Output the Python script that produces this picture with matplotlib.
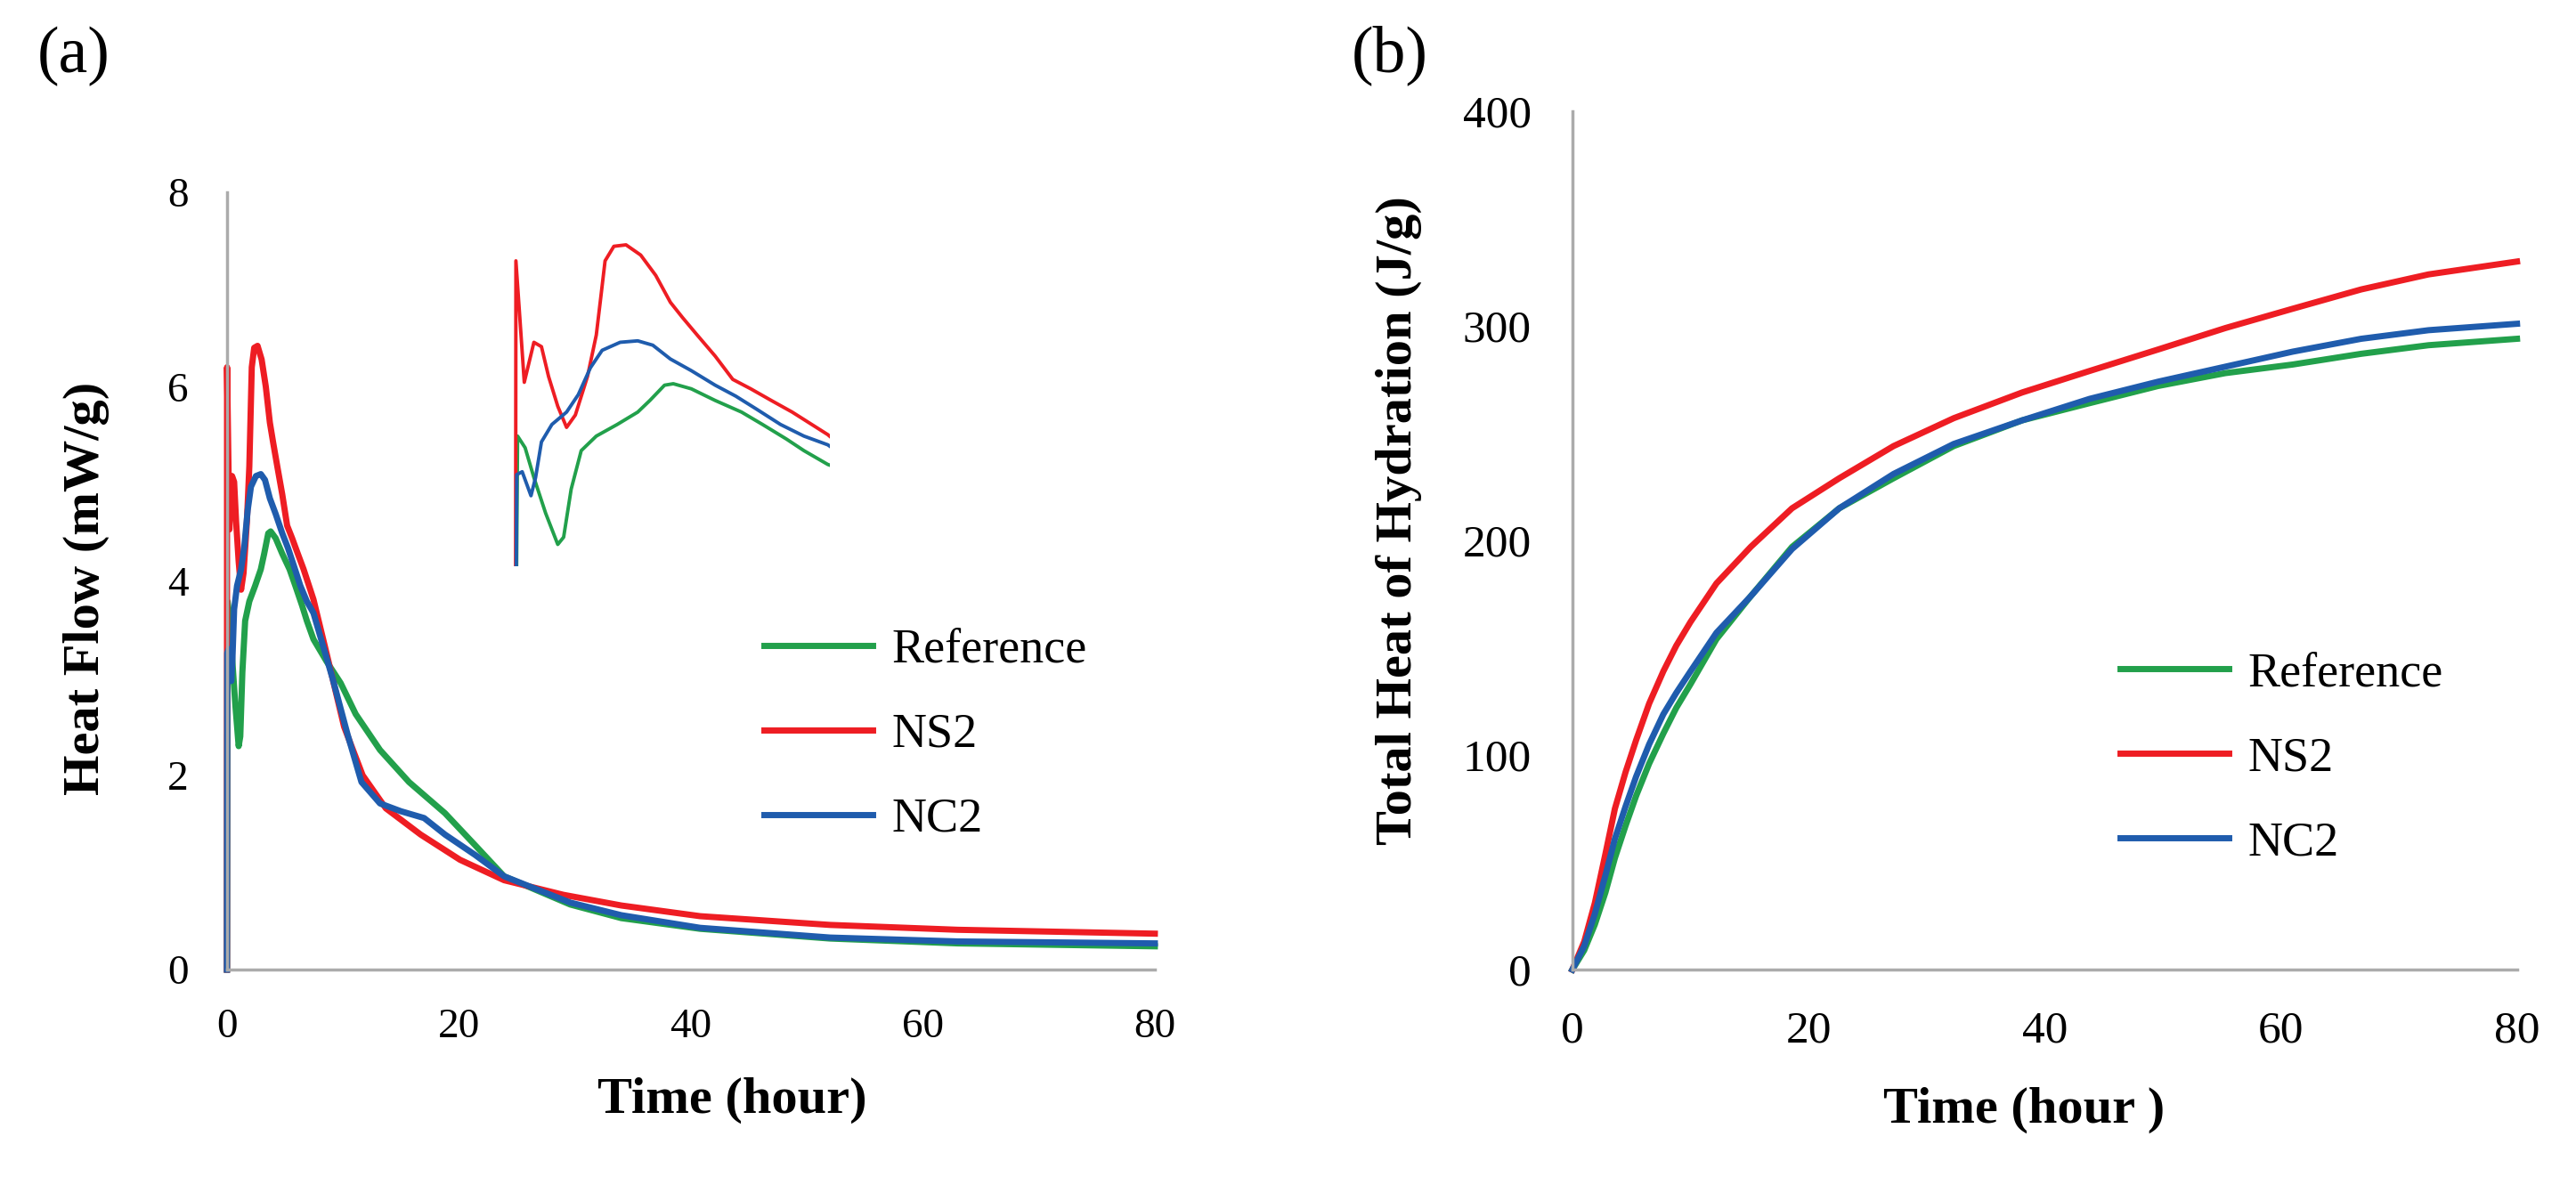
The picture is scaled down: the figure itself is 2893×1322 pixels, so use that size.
import matplotlib.pyplot as plt

# ---- (a) heat flow, mW/g vs time (hour) ----
ref_t = [0, 0.05, 0.23, 0.44, 0.72, 1.01, 1.15, 1.33, 1.57, 1.93, 2.43, 2.92, 3.21, 3.56, 3.77,
         4.20, 4.77, 5.40, 5.90, 6.47, 6.89, 7.46, 8.6, 9.8, 11.1, 13.2, 15.7, 18.8, 21.4,
         23.9, 29.6, 34, 40.8, 52, 63, 80]
ref_q = [0, 3.79, 3.63, 3.22, 2.73, 2.30, 2.40, 3.06, 3.59, 3.79, 3.95, 4.12, 4.28, 4.49, 4.51,
         4.44, 4.28, 4.12, 3.95, 3.75, 3.59, 3.40, 3.17, 2.95, 2.63, 2.26, 1.93, 1.61, 1.28,
         0.96, 0.67, 0.53, 0.42, 0.32, 0.27, 0.24]

ns2_t = [0, 0.01, 0.21, 0.44, 0.62, 0.79, 1.01, 1.22, 1.43, 1.72, 1.93, 2.04, 2.14, 2.35, 2.64,
         2.99, 3.35, 3.70, 3.99, 4.34, 4.77, 5.19, 5.62, 6.11, 6.61, 7.46, 8.6, 10.1, 11.7,
         13.7, 16.7, 20.1, 23.9, 29, 34, 40.8, 52, 63, 80]
ns2_q = [0, 6.20, 4.53, 5.08, 5.02, 4.61, 4.20, 3.91, 4.08, 4.61, 5.18, 5.71, 6.20, 6.40, 6.42,
         6.28, 6.00, 5.63, 5.42, 5.18, 4.89, 4.57, 4.44, 4.28, 4.12, 3.81, 3.25, 2.50, 2.00,
         1.66, 1.39, 1.13, 0.92, 0.77, 0.66, 0.55, 0.46, 0.41, 0.37]

nc2_t = [0, 0.03, 0.16, 0.37, 0.48, 0.62, 0.87, 1.22, 1.50, 1.79, 2.07, 2.50, 2.92, 3.28, 3.70,
         4.20, 4.77, 5.26, 5.76, 6.33, 6.89, 7.46, 9.1, 10.4, 11.6, 13.2, 15, 17, 18.8, 21.4,
         23.9, 29.6, 34, 40.8, 52, 63, 80]
nc2_q = [0, 3.26, 3.30, 2.97, 3.22, 3.71, 3.95, 4.12, 4.36, 4.73, 4.97, 5.08, 5.10, 5.04, 4.85,
         4.69, 4.49, 4.34, 4.16, 3.95, 3.79, 3.67, 3.00, 2.42, 1.93, 1.71, 1.63, 1.56, 1.39, 1.18,
         0.96, 0.69, 0.56, 0.43, 0.33, 0.29, 0.27]

# ---- (b) total heat of hydration, J/g ----
cum_t = [0, 1.0, 1.9, 2.8, 3.6, 4.5, 5.4, 6.5, 7.7, 8.8, 10, 12.2, 15.1, 18.6, 22.6, 27.2,
         32.3, 38.1, 43.8, 49.6, 55.3, 61, 66.8, 72.5, 80]
cum_ref = [0, 9, 21, 36, 52, 67, 81, 96, 110, 122, 133, 154, 174, 197, 215, 229,
           244, 256, 264, 272, 278, 282, 287, 291, 294]
cum_ns2 = [0, 13, 31, 54, 75, 92, 107, 124, 139, 151, 162, 180, 197, 215, 229, 244,
           257, 269, 279, 289, 299, 308, 317, 324, 330]
cum_nc2 = [0, 11, 26, 44, 61, 76, 90, 105, 119, 129, 139, 157, 174, 196, 215, 231,
           245, 256, 266, 274, 281, 288, 294, 298, 301]

labels = ['Reference', 'NS2', 'NC2']
colors = ['#22a04b', '#ee1d23', '#1f5cad']
ticks_a = [0, 2, 4, 6, 8]
ticks_b = [0, 100, 200, 300, 400]
xticks = [0, 20, 40, 60, 80]

plt.rcParams['font.family'] = 'Liberation Serif'

fig = plt.figure(figsize=(28.93, 13.22), dpi=100)
ax1 = fig.add_axes([0.0881, 0.1762, 0.3602, 0.6604])
ax2 = fig.add_axes([0.6104, 0.1762, 0.3667, 0.7292])


def style(ax, yticks, ylim, tsize, pad):
    ax.set_xlim(0, 80)
    ax.set_ylim(*ylim)
    ax.set_xticks(xticks)
    ax.set_yticks(yticks)
    for s in ['top', 'right']:
        ax.spines[s].set_visible(False)
    for s in ['left', 'bottom']:
        ax.spines[s].set_color('#ababab')
        ax.spines[s].set_linewidth(2.5)
    ax.tick_params(length=0, labelsize=tsize, pad=pad)


def legend(ax, anchor):
    ax.legend(loc='center left', bbox_to_anchor=anchor, frameon=False, fontsize=39,
              handlelength=2.25, handletextpad=0.4, labelspacing=0.82, borderpad=0,
              borderaxespad=0)


# panel (a)
for t, q, c, lab in zip([ref_t, ns2_t, nc2_t], [ref_q, ns2_q, nc2_q], colors, labels):
    ax1.plot(t, q, color=c, lw=5.0, label=lab, clip_on=False)
style(ax1, ticks_a, (0, 8), 34, 31)
ax1.set_xlabel('Time (hour)', fontsize=42, fontweight='bold', va='center')
ax1.xaxis.set_label_coords(0.545, -0.168)
ax1.set_ylabel('Heat Flow (mW/g)', fontsize=42, fontweight='bold', va='center')
ax1.yaxis.set_label_coords(-0.1516, 0.491)
legend(ax1, (0.5787, 0.302))

# inset: first hours of the same data
axin = fig.add_axes([0.1993, 0.5189, 0.1227, 0.2811])
for t, q, c in zip([ref_t, ns2_t, nc2_t], [ref_q, ns2_q, nc2_q], colors):
    axin.plot(t, q, color=c, lw=2.8)
axin.set_xlim(-0.05, 7.5)
axin.set_ylim(2.0, 6.55)
axin.axis('off')

# panel (b)
for q, c, lab in zip([cum_ref, cum_ns2, cum_nc2], colors, labels):
    ax2.plot(cum_t, q, color=c, lw=5.0, label=lab, clip_on=False)
style(ax2, ticks_b, (0, 400), 37, 33)
ax2.set_xlabel('Time (hour )', fontsize=42, fontweight='bold', va='center')
ax2.xaxis.set_label_coords(0.478, -0.164)
ax2.set_ylabel('Total Heat of Hydration (J/g)', fontsize=42, fontweight='bold', va='center')
ax2.yaxis.set_label_coords(-0.184, 0.523)
legend(ax2, (0.5796, 0.2459))

fig.text(83 / 2893, 1 - 63 / 1322, '(a)', fontsize=53, ha='center', va='center')
fig.text(1561 / 2893, 1 - 62 / 1322, '(b)', fontsize=53, ha='center', va='center')

fig.savefig('out.png', dpi=100)
